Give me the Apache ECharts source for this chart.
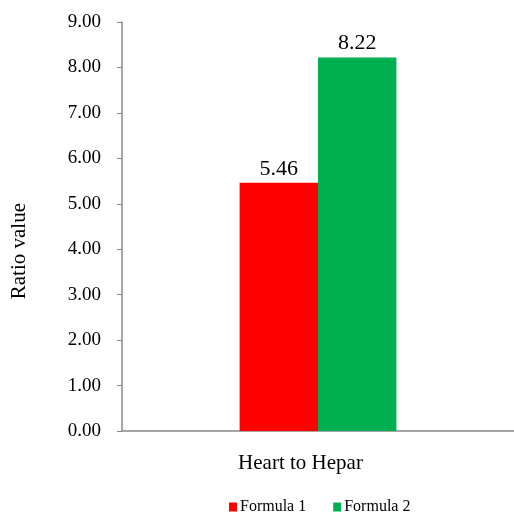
<!DOCTYPE html>
<html><head><meta charset="utf-8">
<script src="https://cdn.jsdelivr.net/npm/echarts@6/dist/echarts.min.js"></script>
<style>html,body{margin:0;padding:0;background:#fff}#c{width:514px;height:515px}</style>
</head><body><div id="c"></div>
<script>
const categories = ['Heart to Hepar'];
const formula1 = [5.46];
const formula2 = [8.22];
const seriesNames = ['Formula 1', 'Formula 2'];
const yAxisTitle = 'Ratio value';
const font = 'Liberation Serif';
const chart = echarts.init(document.getElementById('c'));
chart.setOption({
  animation: false,
  textStyle: { fontFamily: font },
  grid: { left: 122, top: 22, right: -5, bottom: 84 },
  legend: {
    top: 499, left: 229, padding: 0, itemWidth: 8, itemHeight: 9, itemGap: 27,
    icon: 'rect',
    textStyle: { fontFamily: font, fontSize: 16, color: '#000', padding: [0, 0, 0, -2] },
    data: seriesNames
  },
  xAxis: {
    type: 'category', data: categories,
    axisLine: { lineStyle: { color: '#898989', width: 1.5 } },
    axisTick: { show: false },
    axisLabel: { fontFamily: font, fontSize: 21, color: '#000', margin: 22, padding: [0, 35, 0, 0] }
  },
  yAxis: {
    type: 'value', min: 0, max: 9, interval: 1,
    axisLine: { show: true, lineStyle: { color: '#898989', width: 1.5 } },
    axisTick: { show: true, length: 5, lineStyle: { color: '#898989' } },
    splitLine: { show: false },
    axisLabel: { fontFamily: font, fontSize: 19, color: '#000', margin: 21, formatter: v => v.toFixed(2) }
  },
  graphic: [{
    type: 'text', left: 9, top: 203, rotation: Math.PI / 2,
    style: { text: yAxisTitle, font: '21px "Liberation Serif"', fill: '#000' }
  }],
  series: [
    { name: seriesNames[0], type: 'bar', data: formula1, barWidth: '20%', barGap: '0%',
      itemStyle: { color: '#ff0000' },
      label: { show: true, position: 'top', distance: 3, fontFamily: font, fontSize: 22, color: '#000', formatter: p => p.value.toFixed(2) } },
    { name: seriesNames[1], type: 'bar', data: formula2, barWidth: '20%', barGap: '0%',
      itemStyle: { color: '#00b050' },
      label: { show: true, position: 'top', distance: 3, fontFamily: font, fontSize: 22, color: '#000', formatter: p => p.value.toFixed(2) } }
  ]
});
</script></body></html>
